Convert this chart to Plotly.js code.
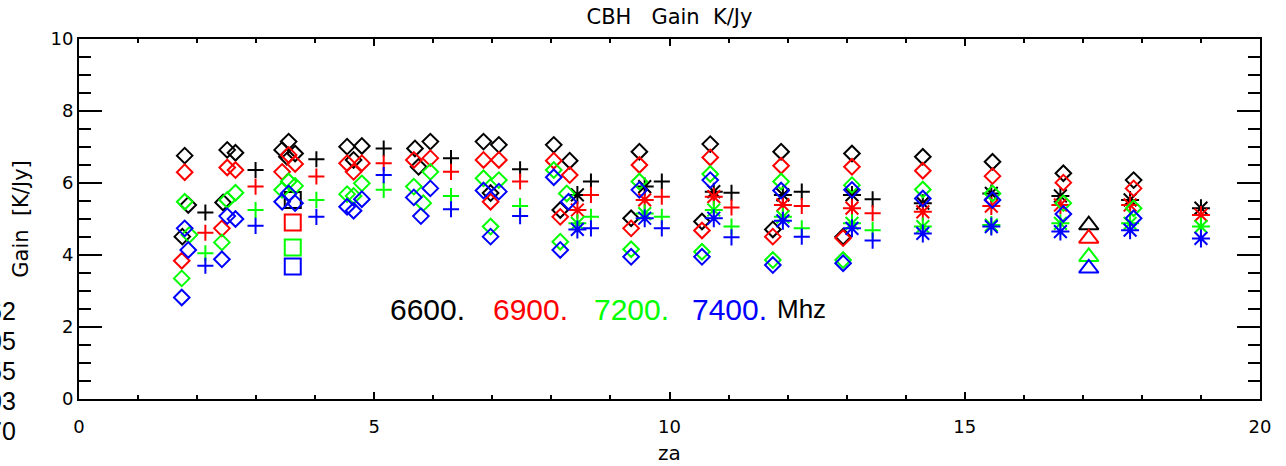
<!DOCTYPE html>
<html>
<head>
<meta charset="utf-8">
<script src="https://cdn.plot.ly/plotly-3.0.1.min.js"></script>
<style>
html,body{margin:0;padding:0;background:#fff;overflow:hidden;}
#chart{width:1286px;height:466px;}
</style>
</head>
<body>
<div id="chart"></div>
<script>
// ---- data ----
const freqs = ["6600.", "6900.", "7200.", "7400."];
const unitLabel = "Mhz";
const sideLabels = ["62", "05", "55", "03", "70"];

// diamonds: za and gain per frequency
const za_dia_6600 = [1.79,1.85,1.75,2.51,2.65,2.44,3.44,3.55,3.66,3.52,4.54,4.79,4.65,5.69,5.95,5.75,6.85,7.11,6.97,8.04,8.31,8.15,9.49,9.35,10.69,10.55,11.89,11.75,13.09,12.94,14.29,15.47,16.67,17.86];
const gain_dia_6600 = [6.76,5.39,4.51,6.92,6.84,5.46,6.92,7.15,6.82,6.73,7.01,7.03,6.64,6.96,7.15,6.45,7.15,7.06,5.72,7.06,6.62,5.25,6.87,5.02,7.08,4.93,6.87,4.71,6.82,4.51,6.73,6.59,6.27,6.08];
const za_dia_6900 = [1.79,1.74,2.51,2.65,2.42,3.44,3.55,3.66,4.54,4.79,4.65,5.67,5.95,6.85,7.11,6.97,8.04,8.31,8.15,9.49,9.35,10.69,10.55,11.89,11.75,13.09,12.94,14.29,15.47,16.67,17.86];
const gain_dia_6900 = [6.30,3.84,6.43,6.36,4.74,6.31,6.78,6.53,6.55,6.55,6.31,6.64,6.69,6.64,6.64,5.48,6.62,6.22,5.06,6.50,4.74,6.71,4.68,6.48,4.51,6.45,4.47,6.34,6.19,6.01,5.85];
const za_dia_7200 = [1.79,1.87,1.74,2.65,2.51,2.42,3.44,3.55,3.66,4.54,4.79,4.65,5.95,5.67,5.83,6.85,7.11,6.97,8.04,8.26,8.15,9.49,9.35,10.69,10.55,11.89,11.75,13.09,12.94,14.29,15.47,16.67,17.86];
const gain_dia_7200 = [5.48,4.56,3.35,5.73,5.53,4.35,5.81,6.04,5.92,5.69,5.99,5.64,6.31,5.90,5.44,6.13,6.08,4.79,6.36,5.71,4.37,6.04,4.16,6.25,4.09,6.04,3.86,5.94,3.86,5.82,5.71,5.44,5.30];
const za_dia_7400 = [1.79,1.85,1.74,2.51,2.65,2.42,3.44,3.55,3.66,4.54,4.79,4.65,5.67,5.95,5.79,6.85,7.11,6.97,8.04,8.29,8.15,9.49,9.35,10.69,10.55,11.89,11.75,13.09,12.94,14.29,15.47,16.67,17.86];
const gain_dia_7400 = [4.74,4.14,2.82,5.08,5.00,3.88,5.48,5.71,5.44,5.34,5.55,5.23,5.60,5.85,5.08,5.79,5.76,4.51,6.16,5.48,4.14,5.81,3.95,6.08,3.95,5.79,3.72,5.81,3.77,5.57,5.53,5.14,5.02];

// plus markers
const za_plus = [2.14,2.99,4.02,5.16,6.30,7.47,8.67,9.87,11.05,12.24,13.44];
const gain_plus_6600 = [5.18,6.36,6.66,6.96,6.69,6.38,6.04,6.04,5.73,5.76,5.55];
const gain_plus_6900 = [4.62,5.90,6.18,6.55,6.31,6.04,5.67,5.62,5.32,5.36,5.16];
const gain_plus_7200 = [4.05,5.25,5.53,5.81,5.64,5.36,5.06,5.06,4.79,4.74,4.69];
const gain_plus_7400 = [3.70,4.81,5.06,6.22,5.27,5.08,4.74,4.74,4.49,4.51,4.40];

// asterisk markers
const za_star = [8.44,9.58,10.75,11.92,13.09,14.29,15.45,16.62,17.80,19.00];
const gain_star_6600 = [5.67,5.90,5.76,5.67,5.67,5.44,5.71,5.64,5.53,5.30];
const gain_star_6900 = [5.25,5.53,5.62,5.39,5.30,5.20,5.36,5.39,5.39,5.11];
const gain_star_7200 = [4.88,5.15,5.25,5.06,4.88,4.79,4.83,4.88,4.88,4.79];
const gain_star_7400 = [4.71,5.02,5.02,4.95,4.74,4.60,4.79,4.65,4.69,4.46];

// square markers
const za_square = [3.62];
const gain_square_6600 = [5.53];
const gain_square_6900 = [4.90];
const gain_square_7200 = [4.21];
const gain_square_7400 = [3.68];

// triangle markers
const za_tri = [17.10];
const gain_tri_6600 = [4.83];
const gain_tri_6900 = [4.46];
const gain_tri_7200 = [3.95];
const gain_tri_7400 = [3.63];

// ---- styling ----
const colors = ["#000000", "#ff0000", "#00ff00", "#0000ff"];
const groups = [
  {dx:[za_dia_6600,za_dia_6900,za_dia_7200,za_dia_7400], dy:[gain_dia_6600,gain_dia_6900,gain_dia_7200,gain_dia_7400], symbol:"diamond-open", size:12},
  {dx:[za_plus,za_plus,za_plus,za_plus], dy:[gain_plus_6600,gain_plus_6900,gain_plus_7200,gain_plus_7400], symbol:"cross-thin-open", size:11.5},
  {dx:[za_star,za_star,za_star,za_star], dy:[gain_star_6600,gain_star_6900,gain_star_7200,gain_star_7400], symbol:"asterisk-open", size:15},
  {dx:[za_square,za_square,za_square,za_square], dy:[gain_square_6600,gain_square_6900,gain_square_7200,gain_square_7400], symbol:"square-open", size:16},
  {dx:[za_tri,za_tri,za_tri,za_tri], dy:[gain_tri_6600,gain_tri_6900,gain_tri_7200,gain_tri_7400], symbol:"triangle-up-open", size:17}
];

const traces = [];
for (let f = 0; f < 4; f++) {
  for (const g of groups) {
    traces.push({
      type: "scatter", mode: "markers",
      x: g.dx[f], y: g.dy[f],
      name: freqs[f],
      showlegend: false,
      hoverinfo: "x+y",
      marker: {symbol: g.symbol, size: g.size, color: colors[f], line: {color: colors[f], width: 2}}
    });
  }
}

const FONT = "DejaVu Sans, sans-serif";
const annotations = [];
const legX = [5.24, 6.97, 8.69, 10.35];
for (let f = 0; f < 4; f++) {
  annotations.push({x: legX[f], y: 2.5, xref: "x", yref: "y", text: freqs[f], showarrow: false,
    xanchor: "left", yanchor: "middle", font: {family: "Liberation Sans, sans-serif", size: 30, color: colors[f]}});
}
annotations.push({x: 11.79, y: 2.5, xref: "x", yref: "y", text: unitLabel, showarrow: false,
  xanchor: "left", yanchor: "middle", font: {family: "Liberation Sans, sans-serif", size: 26, color: "#000"}});

const sideY = [0.245, 0.161, 0.078, -0.005, -0.088];
for (let i = 0; i < sideLabels.length; i++) {
  annotations.push({x: -0.0517, y: sideY[i], xref: "paper", yref: "paper", text: sideLabels[i], showarrow: false,
    xanchor: "right", yanchor: "middle", font: {family: "Liberation Sans, sans-serif", size: 25, color: "#000"}});
}

const axisCommon = {
  showline: true, linecolor: "#000", linewidth: 2, mirror: "ticks",
  ticks: "inside", tickcolor: "#000", tickwidth: 2,
  showgrid: false, zeroline: false,
  tickfont: {family: FONT, size: 18, color: "#000"}
};

const layout = {
  width: 1286, height: 466,
  margin: {l: 79, r: 26, t: 39, b: 67},
  paper_bgcolor: "#fff", plot_bgcolor: "#fff",
  font: {family: FONT, color: "#000"},
  title: {text: "CBH   Gain  K/Jy", x: 0.5, xref: "paper", y: 0.964, yref: "container", yanchor: "middle",
    font: {family: FONT, size: 21, color: "#000"}},
  xaxis: Object.assign({}, axisCommon, {
    range: [0, 20], tickmode: "linear", tick0: 0, dtick: 5, ticklen: 7,
    ticklabelstandoff: 10,
    minor: {dtick: 1, ticklen: 4, ticks: "inside", tickcolor: "#000", tickwidth: 2},
    title: {text: "za", font: {family: FONT, size: 20, color: "#000"}, standoff: 10}
  }),
  yaxis: Object.assign({}, axisCommon, {
    range: [0, 10], tickmode: "linear", tick0: 0, dtick: 2, ticklen: 23,
    minor: {dtick: 0.5, ticklen: 12, ticks: "inside", tickcolor: "#000", tickwidth: 2},
    title: {text: "Gain  [K/Jy]", font: {family: FONT, size: 21, color: "#000"}, standoff: 16}
  }),
  annotations: annotations,
  showlegend: false
};

Plotly.newPlot("chart", traces, layout, {displayModeBar: false, responsive: false});
</script>
</body>
</html>
